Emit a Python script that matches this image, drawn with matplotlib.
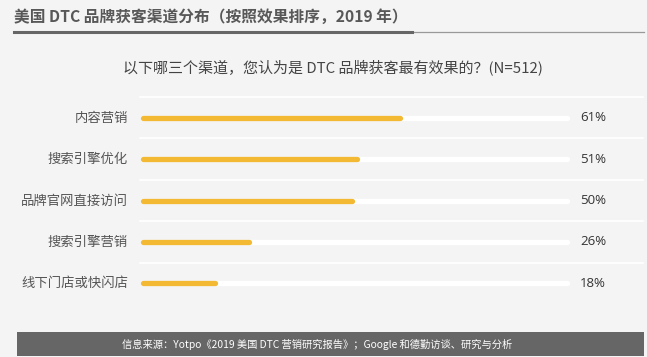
import matplotlib.pyplot as plt
from matplotlib.patches import Rectangle

plt.rcParams['font.family'] = ['Noto Sans CJK SC', 'DejaVu Sans']

channels = ["内容营销", "搜索引擎优化", "品牌官网直接访问", "搜索引擎营销", "线下门店或快闪店"]
shares = [61, 51, 50, 26, 18]
title = "美国 DTC 品牌获客渠道分布（按照效果排序，2019 年）"
question = "以下哪三个渠道，您认为是 DTC 品牌获客最有效果的？(N=512)"
source = "信息来源：Yotpo《2019 美国 DTC 营销研究报告》；Google 和德勤访谈、研究与分析"

W, H = 647, 357
bg = "#f4f4f4"
bar_color = "#f4b933"

fig = plt.figure(figsize=(W / 100, H / 100), dpi=100, facecolor=bg)

# title + underline
fig.text(14 / W, 1 - 17 / H, title, fontsize=11.3, fontweight='bold', color="#585858",
         ha='left', va='center')
fig.add_artist(plt.Line2D([14 / W, 644 / W], [1 - 31.5 / H] * 2, color="#999999", lw=0.9))
fig.add_artist(plt.Line2D([14 / W, 412 / W], [1 - 31.5 / H] * 2, color="#666666", lw=2.2))

fig.text(333 / W, 1 - 67 / H, question, fontsize=10.8, color="#444444", ha='center', va='center')

# bar area: 0..100 maps to px 140..570, rows 41.3 px apart
ax = fig.add_axes([140 / W, (H - 304) / H, 430 / W, 207 / H])
ax.set_facecolor(bg)
ax.set_xlim(0, 100)
ax.set_ylim(len(channels) - 0.5, -0.5)
ax.axis('off')

for i, (name, v) in enumerate(zip(channels, shares)):
    ax.plot([0.6, 99.4], [i, i], color="white", lw=3.8, solid_capstyle='round')
    ax.plot([0.6, v - 0.6], [i, i], color=bar_color, lw=3.8, solid_capstyle='round')
    ax.text(-2.8, i, name, ha='right', va='center', fontsize=9.6, color="#555555")
    ax.text(102.3, i, f"{v}%", ha='left', va='center', fontsize=9.5, color="#333333",
            family=['Open Sans', 'DejaVu Sans'])

for i in range(len(channels)):
    ax.plot([0, 117], [i - 0.5, i - 0.5], color="white", lw=1.2, clip_on=False)

# footer band
fig.add_artist(Rectangle((17 / W, 1 - 356 / H), 627 / W, 24 / H, transform=fig.transFigure,
                         facecolor="#666666", edgecolor='none'))
fig.text(317 / W, 1 - 344 / H, source, fontsize=7.4, color="white", ha='center', va='center')

fig.savefig("out.png", dpi=100, facecolor=bg)
